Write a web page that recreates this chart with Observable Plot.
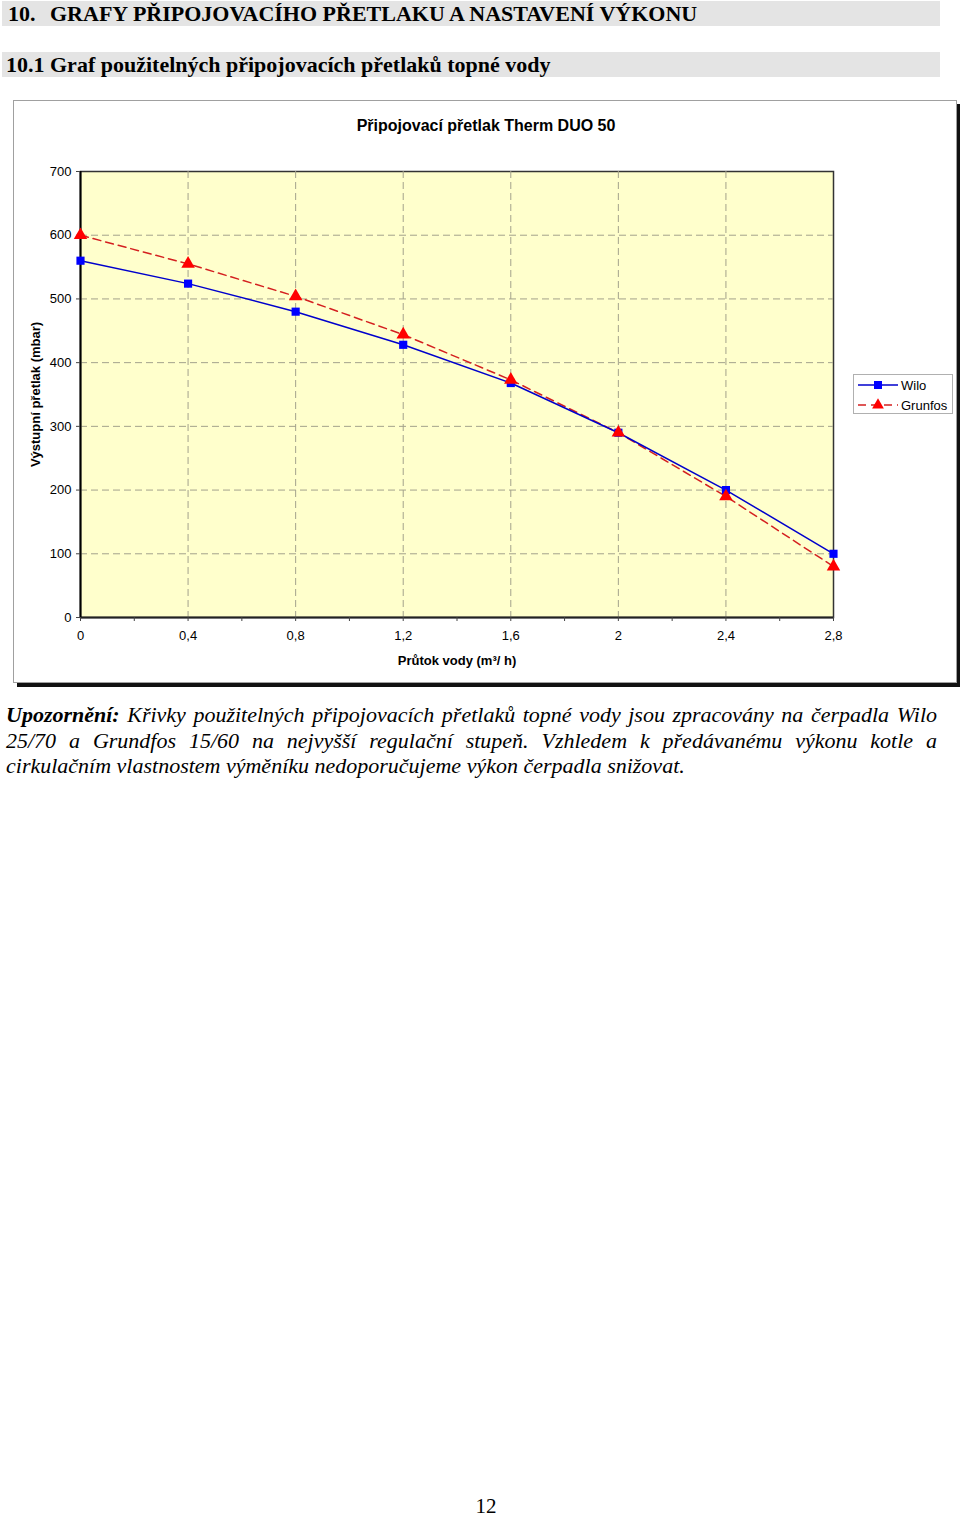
<!DOCTYPE html>
<html>
<head>
<meta charset="utf-8">
<script src="https://cdn.jsdelivr.net/npm/d3@7"></script>
<script src="https://cdn.jsdelivr.net/npm/@observablehq/plot@0.6"></script>
<style>
  html, body { margin: 0; padding: 0; background: #fff; }
  body { position: relative; width: 960px; height: 1515px; overflow: hidden; }
  .bar { position: absolute; left: 2px; width: 938px; height: 25px; background: #e4e4e4; }
  .serif { font-family: "Liberation Serif", "Times New Roman", serif; color: #000; }
  .h { position: absolute; font-size: 22px; font-weight: bold; line-height: 26px; white-space: nowrap; }
  #box { position: absolute; left: 13px; top: 100px; width: 942px; height: 581px;
         border: 1px solid #a0a0a0; box-shadow: 4px 4px 0 #111; background: #fff; }
  #chart { position: absolute; left: 0; top: 100px; }
  #legend { position: absolute; left: 853px; top: 374px; width: 98px; height: 38px;
            border: 1px solid #b0b0b0; background: #fff; }
  .note { position: absolute; left: 6px; width: 931px; font-size: 22px; line-height: 25.5px;
          font-style: italic; white-space: nowrap; }
  .just { text-align: justify; text-align-last: justify; white-space: normal; }
  #page { position: absolute; left: 0; width: 972px; top: 1494px; text-align: center; font-size: 21px; }
</style>
</head>
<body>
<div class="bar" style="top:1px"></div>
<div class="h serif" style="left:8px; top:1px;">10.</div>
<div class="h serif" style="left:50px; top:1px;">GRAFY PŘIPOJOVACÍHO PŘETLAKU A NASTAVENÍ VÝKONU</div>
<div class="bar" style="top:52px"></div>
<div class="h serif" style="left:6px; top:52px;">10.1 Graf použitelných připojovacích přetlaků topné vody</div>
<div id="box"></div>
<div id="chart"></div>
<div id="legend"></div>
<div class="note serif just" style="top:702px;"><b>Upozornění:</b> Křivky použitelných připojovacích přetlaků topné vody jsou zpracovány na čerpadla Wilo</div>
<div class="note serif just" style="top:727.5px;">25/70 a Grundfos 15/60 na nejvyšší regulační stupeň. Vzhledem k&nbsp;předávanému výkonu kotle a</div>
<div class="note serif" style="top:753px;">cirkulačním vlastnostem výměníku nedoporučujeme výkon čerpadla snižovat.</div>
<div id="page" class="serif">12</div>
<script>
// ---- data ----
const flow = [0, 0.4, 0.8, 1.2, 1.6, 2.0, 2.4, 2.8];
const wilo = [560, 524, 480, 428, 368, 290, 200, 100];
const grundfos = [600, 555, 504, 444, 373, 290, 190, 80];
const seriesNames = ["Wilo", "Grunfos"];
const xTicks = [0, 0.4, 0.8, 1.2, 1.6, 2.0, 2.4, 2.8];
const xMinorTicks = [0, 0.2, 0.4, 0.6, 0.8, 1.0, 1.2, 1.4, 1.6, 1.8, 2.0, 2.2, 2.4, 2.6, 2.8];
const yTicks = [0, 100, 200, 300, 400, 500, 600, 700];
const chartTitle = "Připojovací přetlak Therm DUO 50";
const xLabel = "Průtok vody (m³/ h)";
const yLabel = "Výstupní přetlak (mbar)";

const rows = [];
flow.forEach((f, i) => {
  rows.push({flow: f, p: wilo[i], s: seriesNames[0]});
  rows.push({flow: f, p: grundfos[i], s: seriesNames[1]});
});
const wRows = rows.filter(d => d.s === seriesNames[0]);
const gRows = rows.filter(d => d.s === seriesNames[1]);

const fmt = d => String(+d.toFixed(1)).replace(".", ",");
const gridCol = "#a3a28c";

const chart = Plot.plot({
  width: 960, height: 584,
  marginLeft: 80, marginRight: 127, marginTop: 71, marginBottom: 67,
  x: {domain: [0, 2.8]},
  y: {domain: [0, 700]},
  style: {fontFamily: "'Liberation Sans', Arial, sans-serif", fontSize: "13px", background: "transparent", color: "#000", overflow: "visible"},
  marks: [
    Plot.frame({fill: "#ffffcc", stroke: "#333", strokeWidth: 1.5}),
    Plot.gridY(yTicks.filter(d => d > 0 && d < 700), {stroke: gridCol, strokeOpacity: 1, strokeDasharray: "7,4"}),
    Plot.gridX(xTicks.filter(d => d > 0 && d < 2.8), {stroke: gridCol, strokeOpacity: 1, strokeDasharray: "7,4"}),
    Plot.ruleY([0], {stroke: "#222", strokeWidth: 2}),
    Plot.ruleX([0], {stroke: "#000", strokeWidth: 2}),
    Plot.axisY({ticks: yTicks, tickSize: 4, tickPadding: 5, label: null, stroke: "#444", fontSize: 13}),
    Plot.axisX({ticks: xMinorTicks, tickSize: 4, text: null, label: null, stroke: "#444"}),
    Plot.axisX({ticks: xTicks, tickSize: 0, tickPadding: 13, tickFormat: fmt, label: null, fontSize: 13}),
    Plot.line(gRows, {x: "flow", y: "p", stroke: "#d42020", strokeWidth: 1.5, strokeDasharray: "8,5"}),
    Plot.line(wRows, {x: "flow", y: "p", stroke: "#0000cc", strokeWidth: 1.5}),
    Plot.dot(wRows, {x: "flow", y: "p", symbol: "square", r: 4.6, fill: "#0000ff", stroke: "none"}),
    Plot.dot(gRows, {x: "flow", y: "p", symbol: "triangle", r: 5, fill: "#ff0000", stroke: "none"}),
    Plot.text([chartTitle], {frameAnchor: "top", lineAnchor: "middle", dx: 29, dy: -46, fontWeight: "bold", fontSize: 16}),
    Plot.text([xLabel], {frameAnchor: "bottom", lineAnchor: "middle", dy: 43, fontWeight: "bold", fontSize: 13}),
    Plot.text([yLabel], {frameAnchor: "left", textAnchor: "middle", lineAnchor: "middle", dx: -45, rotate: -90, fontWeight: "bold", fontSize: 13})
  ]
});
document.getElementById("chart").appendChild(chart);

// ---- legend ----
const leg = d3.select("#legend").append("svg").attr("width", 98).attr("height", 38)
  .style("font-family", "'Liberation Sans', Arial, sans-serif").style("font-size", "13px");
const legItems = [
  {name: seriesNames[0], stroke: "#0000cc", fill: "#0000ff", dash: null, sym: d3.symbolSquare},
  {name: seriesNames[1], stroke: "#d42020", fill: "#ff0000", dash: "8,5", sym: d3.symbolTriangle}
];
legItems.forEach((it, i) => {
  const y = 10 + i * 20;
  leg.append("line").attr("x1", 4).attr("x2", 44).attr("y1", y).attr("y2", y)
    .attr("stroke", it.stroke).attr("stroke-width", 1.5).attr("stroke-dasharray", it.dash);
  leg.append("path").attr("d", d3.symbol(it.sym, i === 0 ? 64 : 60)()).attr("transform", `translate(24,${y})`)
    .attr("fill", it.fill);
  leg.append("text").attr("x", 47).attr("y", y).attr("dy", "0.35em").text(it.name);
});
</script>
</body>
</html>
